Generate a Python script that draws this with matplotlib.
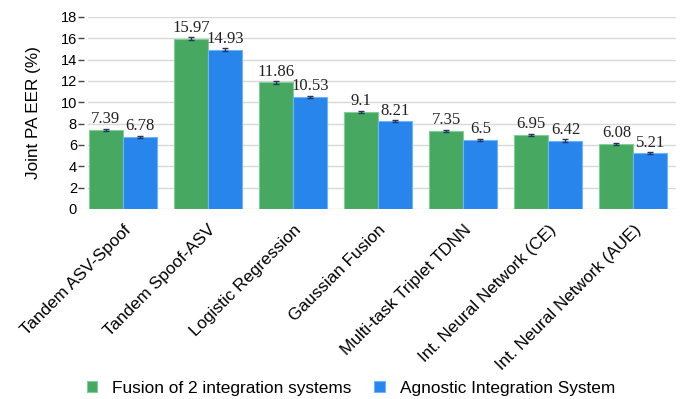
import matplotlib.pyplot as plt
import numpy as np

# -----------------------------
# DATA
# -----------------------------
systems = ["Tandem ASV-Spoof", "Tandem Spoof-ASV", "Logistic Regression",
           "Gaussian Fusion", "Multi-task Triplet TDNN",
           "Int. Neural Network (CE)", "Int. Neural Network (AUE)"]
fusion_eer = [7.39, 15.97, 11.86, 9.1, 7.35, 6.95, 6.08]
agnostic_eer = [6.78, 14.93, 10.53, 8.21, 6.5, 6.42, 5.21]
fusion_err = [0.12, 0.12, 0.1, 0.12, 0.1, 0.1, 0.1]
agnostic_err = [0.1, 0.12, 0.1, 0.1, 0.1, 0.1, 0.1]

green = "#47a862"
blue = "#2785ec"

plt.rcParams["font.family"] = ["Liberation Sans", "DejaVu Sans"]

# -----------------------------
# PLOT
# -----------------------------
fig = plt.figure(figsize=(6.83, 3.99), dpi=100)
ax = fig.add_axes([88 / 683, 1 - 209 / 399, 588 / 683, 192 / 399])

x = np.arange(len(systems))
w = 0.4
err_style = dict(ecolor="#26365a", elinewidth=1.0, capsize=2.5, capthick=1.0)

b1 = ax.bar(x - w / 2, fusion_eer, w, color=green, edgecolor="#7fd097",
            linewidth=0.8, yerr=fusion_err, error_kw=err_style,
            label="Fusion of 2 integration systems", zorder=3)
b2 = ax.bar(x + w / 2, agnostic_eer, w, color=blue, edgecolor="#6cb4ff",
            linewidth=0.8, yerr=agnostic_err, error_kw=err_style,
            label="Agnostic Integration System", zorder=3)

for bars, vals in [(b1, fusion_eer), (b2, agnostic_eer)]:
    for bar, v in zip(bars, vals):
        ax.annotate(f"{v:g}", (bar.get_x() + bar.get_width() / 2, v),
                    xytext=(0, 2), textcoords="offset points",
                    ha="center", va="bottom", fontsize=12,
                    family="Liberation Serif", color="#222222")

ax.set_xlim(-0.41, 6.5)
ax.set_ylim(0, 18)
ax.set_yticks(range(0, 19, 2))
ax.yaxis.grid(True, color="#d8d8d8", linewidth=1.0, zorder=0)
ax.set_axisbelow(True)
for s in ax.spines.values():
    s.set_visible(False)
# push y ticks away from the plot so the dash sits apart from the gridline
ax.spines["left"].set_position(("outward", 3))

ax.tick_params(axis="y", length=4, width=1.0, color="#444444",
               labelsize=10.5, pad=1)
ax.yaxis.get_major_ticks()[0].tick1line.set_visible(False)
ax.tick_params(axis="x", length=0, pad=9.5)
ax.set_xticks(x)
ax.set_xticklabels(systems, rotation=45, ha="right",
                   rotation_mode="anchor", fontsize=12.3)
ax.set_ylabel("Joint PA EER (%)", fontsize=12.3, labelpad=14)

fig.legend(loc="center", bbox_to_anchor=(351 / 683, 1 - 388 / 399), ncol=2,
           frameon=False, fontsize=12.4, handlelength=0.6, handleheight=0.6,
           columnspacing=1.3, handletextpad=0.9, borderpad=0)

fig.savefig("out.png", dpi=100)
